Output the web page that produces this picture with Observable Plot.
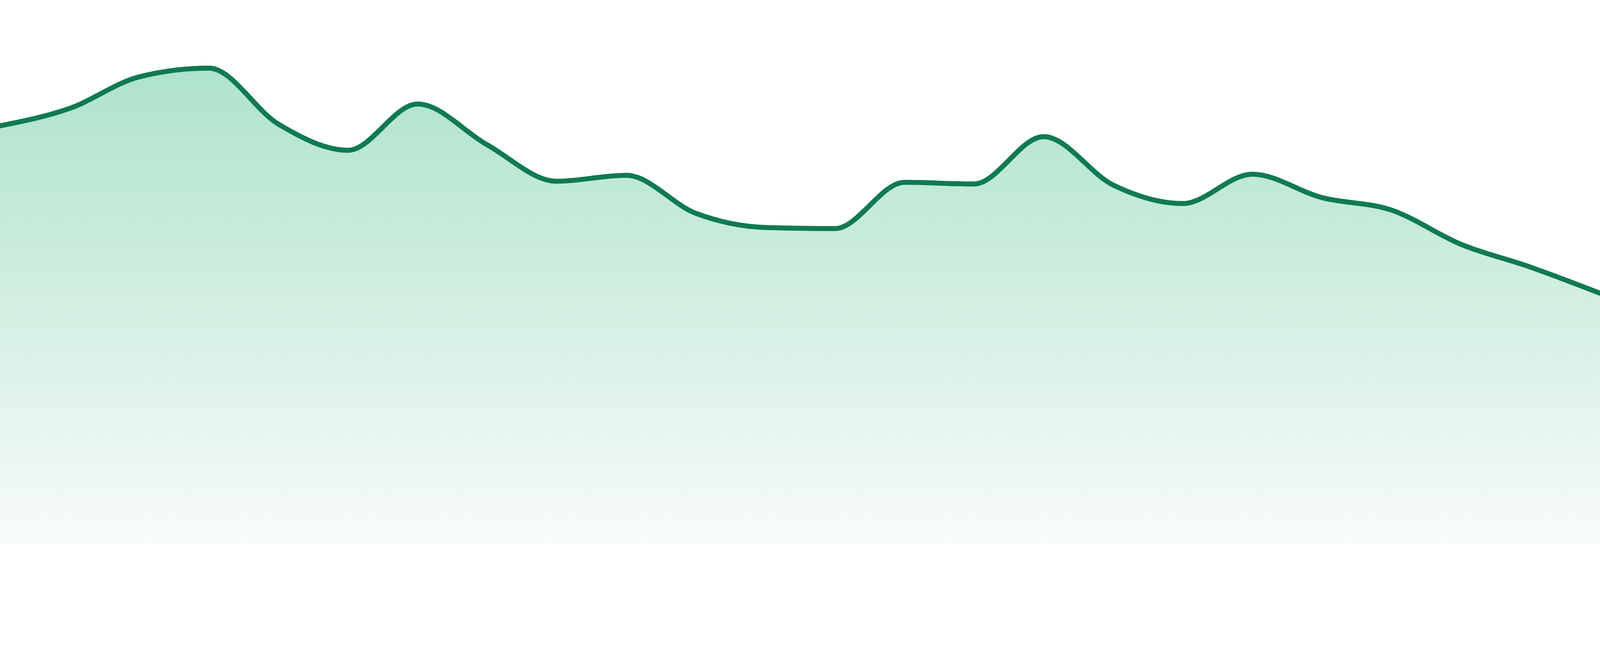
<!DOCTYPE html>
<html>
<head>
<meta charset="utf-8">
<script src="https://cdn.jsdelivr.net/npm/d3@7"></script>
<script src="https://cdn.jsdelivr.net/npm/@observablehq/plot@0.6"></script>
<style>
  html, body { margin: 0; padding: 0; background: #ffffff; }
  #chart svg { display: block; }
</style>
</head>
<body>
<div id="chart"></div>
<script>
// Point index along the x axis (24 evenly spaced samples)
const steps = [0,1,2,3,4,5,6,7,8,9,10,11,12,13,14,15,16,17,18,19,20,21,22,23];
// Series values (arbitrary units, baseline 0)
const values = [76.9, 80.1, 85.9, 87.5, 77.2, 72.4, 80.9, 73.4, 66.7, 67.8, 60.8, 58.2,
                58.0, 66.5, 66.2, 74.9, 66.0, 62.6, 68.0, 63.7, 61.4, 55.1, 50.9, 46.1];

const data = steps.map((s, i) => ({step: s, value: values[i]}));

const W = 4800, H = 1680;

const plot = Plot.plot({
  width: W,
  height: H,
  marginTop: 0,
  marginRight: 0,
  marginBottom: 48,
  marginLeft: 0,
  x: {domain: [0, 23], axis: null},
  y: {domain: [0, 100], axis: null},
  marks: [
    Plot.areaY(data, {x: "step", y: "value", curve: "monotone-x", fill: "url(#areaGrad)"}),
    Plot.lineY(data, {x: "step", y: "value", curve: "monotone-x", stroke: "#107a52", strokeWidth: 15})
  ]
});

const svg = d3.select(plot);
const defs = svg.insert("defs", ":first-child");
const g = defs.append("linearGradient")
  .attr("id", "areaGrad")
  .attr("x1", 0).attr("y1", 0).attr("x2", 0).attr("y2", 1);
g.append("stop").attr("offset", "0%").attr("stop-color", "#aee3cb");
g.append("stop").attr("offset", "100%").attr("stop-color", "#f8fbfa");

document.getElementById("chart").appendChild(plot);
</script>
</body>
</html>
